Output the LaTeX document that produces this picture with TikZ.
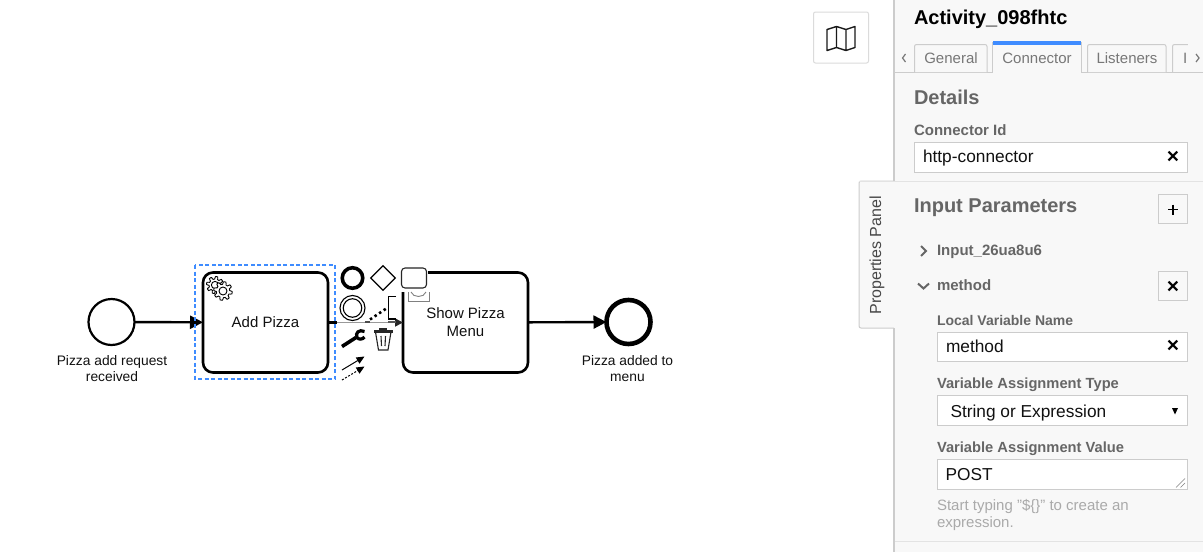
\documentclass[tikz,border=0pt]{standalone}
\usepackage{fontspec}
\setmainfont{Liberation Sans}
\usetikzlibrary{arrows.meta,shapes.geometric,calc}
\definecolor{panelbg}{HTML}{F8F8F8}
\definecolor{panelline}{HTML}{CCCCCC}
\definecolor{labelgray}{HTML}{666666}
\definecolor{tabgray}{HTML}{777777}
\definecolor{hintgray}{HTML}{AAAAAA}
\definecolor{selblue}{HTML}{3F8CFF}
\definecolor{inkdark}{HTML}{111111}
\newcommand{\fs}[1]{\fontsize{#1}{#1}\selectfont}
\tikzset{
  x=1pt,y=-1pt,
  every node/.style={inner sep=0pt,outer sep=0pt},
  task/.style={draw=black,line width=2.6pt,rounded corners=10pt,minimum width=125pt,minimum height=100pt,fill=white,align=center,font=\fontsize{15}{18}\selectfont,text=inkdark},
  evlabel/.style={align=center,font=\fontsize{13.8}{16}\selectfont,text=inkdark},
  startev/.style={circle,draw=black,line width=2.2pt,minimum size=46pt,fill=white},
  endev/.style={circle,draw=black,line width=4.6pt,minimum size=44pt,fill=white},
  flow/.style={draw=black,line width=2.4pt,-{Triangle[length=13pt,width=13pt]}},
  pane/.style={anchor=base west},
  sect/.style={pane,font=\bfseries\fontsize{20}{24}\selectfont,text=labelgray},
  lab/.style={pane,font=\bfseries\fontsize{14.7}{17}\selectfont,text=labelgray},
  inputtext/.style={pane,font=\fontsize{17.3}{20}\selectfont,text=inkdark},
  field/.style={draw=panelline,line width=1pt,fill=white,anchor=north west},
  tabbox/.style={draw=panelline,line width=1pt,rounded corners=2pt},
  tabtext/.style={font=\fontsize{15}{18}\selectfont,text=tabgray},
  squarebtn/.style={draw=panelline,line width=1pt,fill=panelbg,minimum size=29pt},
  clearx/.style={font=\bfseries\fontsize{21}{21}\selectfont,text=black},
  gearline/.style={black,line width=.9pt,fill=white,line join=round},
}
\begin{document}
\begin{tikzpicture}
\useasboundingbox (0,0) rectangle (1203,552);
\fill[white] (0,0) rectangle (1203,552);

% ---- map button
\node[draw=panelline!70,line width=1pt,rounded corners=2pt,minimum width=55pt,minimum height=51pt,fill=white] (mapbtn) at (841,37.5) {};
\draw[line width=1.4pt,line join=round,black!90] (827,29.5) -- (836.5,26.5) -- (846,29.5) -- (855,26.5) -- (855,47.5) -- (846,50.5) -- (836.5,47.5) -- (827,50.5) -- cycle
  (836.5,26.5) -- (836.5,47.5) (846,29.5) -- (846,50.5);

% ---- properties tab + panel
\draw[draw=panelline,line width=1pt,fill=panelbg,rounded corners=2pt] (894,181) -- (859,181) -- (859,328) -- (894,328);
\fill[panelbg] (894,0) rectangle (1203,552);
\draw[panelline,line width=1.6pt] (894,0) -- (894,181);
\draw[panelline,line width=1.6pt] (894,328) -- (894,552);
\draw[panelline!55,line width=1pt] (859,181) -- (1203,181);
\draw[panelline!55,line width=1pt] (895,541.5) -- (1203,541.5);
\node[rotate=90,font=\fontsize{16}{18}\selectfont,text=labelgray!70!black] (proptab) at (877,255.5) {Properties Panel};

\node[pane,font=\bfseries\fontsize{20}{24}\selectfont,text=black] (title) at (914,24) {Activity\_098fhtc};

% ---- tabs
\draw[panelline,line width=1pt] (895,72) -- (1203,72);
\draw[tabbox,fill=panelbg] (914.5,72) -- (914.5,44.5) -- (987,44.5) -- (987,72);
\draw[tabbox,fill=panelbg] (1087.5,72) -- (1087.5,44.5) -- (1166,44.5) -- (1166,72);
\draw[tabbox,fill=panelbg] (1172.5,72) -- (1172.5,44.5) -- (1188,44.5);
\draw[panelline,line width=1pt,fill=panelbg] (992.5,72.5) -- (992.5,42) -- (1081,42) -- (1081,72.5);
\fill[panelbg] (993,60) rectangle (1080.5,73);
\fill[selblue] (993,41) rectangle (1081,45) ;
\node[tabtext] (tgen) at (951,58.5) {General};
\node[tabtext] (tcon) at (1037,58.5) {Connector};
\node[tabtext] (tlis) at (1127,58.5) {Listeners};
\node[tabtext,anchor=west] (tinp) at (1183,58.5) {I};
\fill[panelbg] (1188,42) rectangle (1203,71);
\draw[tabgray,line width=1.2pt] (905.5,54) -- (902.5,58) -- (905.5,62);
\draw[tabgray,line width=1.2pt] (1196,54) -- (1199,58) -- (1196,62);

% ---- details
\node[sect] (details) at (914,104) {Details};
\node[lab,font=\bfseries\fs{15}] (cid) at (914,135) {Connector Id};
\node[field,minimum width=273pt,minimum height=30pt] (f1) at (914.5,142.5) {};
\node[inputtext] (f1t) at (923,162.5) {http-connector};
\node[clearx] (f1x) at (1173,157) {×};

% ---- input parameters
\node[sect] (inparams) at (914,212) {Input Parameters};
\node[squarebtn] (plus) at (1173,209) {};
\draw[black,line width=1.5pt] (1168,209.5) -- (1178,209.5) (1173,204.5) -- (1173,214.5);
\draw[labelgray,line width=2pt] (921,246) -- (926,251) -- (921,256);
\node[lab,font=\bfseries\fs{15}] (inp1) at (937,255.5) {Input\_26ua8u6};
\draw[labelgray,line width=2pt] (918,283.5) -- (923.5,288.5) -- (929,283.5);
\node[lab,font=\bfseries\fs{15}] (meth) at (937,290.5) {method};
\node[squarebtn] (mx) at (1173,285.5) {};
\node[clearx] at (1173,287) {×};

\node[lab,font=\bfseries\fs{14}] (lvn) at (937,325) {Local Variable Name};
\node[field,minimum width=250pt,minimum height=29pt] (f2) at (937.5,332.5) {};
\node[inputtext] (f2t) at (946,352.5) {method};
\node[clearx] (f2x) at (1173,346) {×};

\node[lab] (vat) at (937,388) {Variable Assignment Type};
\node[field,minimum width=250pt,minimum height=30pt] (f3) at (937.5,395.5) {};
\node[inputtext] (f3t) at (950.5,417) {String or Expression};
\fill[black] (1172,408) -- (1178,408) -- (1175,414.5) -- cycle;

\node[lab] (vav) at (937,452) {Variable Assignment Value};
\node[field,minimum width=250pt,minimum height=30pt] (f4) at (937.5,459.5) {};
\node[inputtext] (f4t) at (945.5,480) {POST};
\draw[gray,line width=.6pt] (1176,487.5) -- (1185,478.5) (1180.5,487.5) -- (1185,483);
\node[pane,font=\fontsize{15}{16.5}\selectfont,text=hintgray] (h1) at (937,510) {Start typing "\$\{\}" to create an};
\node[pane,font=\fontsize{15}{16.5}\selectfont,text=hintgray] (h2) at (937,527) {expression.};

% ---- BPMN shapes
\node[startev] (start) at (111.5,322) {};
\node[task,anchor=north west] (add) at (203,272.5) {Add Pizza};
\node[task,anchor=north west] (show) at (403,272.5) {Show Pizza\\Menu};
\node[endev] (endevt) at (628.5,322) {};
\node[evlabel] (l1) at (112,369) {Pizza add request\\received};
\node[evlabel] (l2) at (627.5,369) {Pizza added to\\menu};

\draw[flow] (start) -- (add);
\draw[flow] (show) -- (endevt);
% faded flow under the context pad
\draw[black!40,line width=1.7pt,-{Triangle[length=8pt,width=8pt,black!85]}] (add) -- (show);
\draw[black,line width=2.4pt] (add.east) -- ($(add.east)+(9,0)$);
\draw[black!70,line width=2pt] (365,322) -- (370,322);
\draw[black!65,line width=1.5pt] (388,322) -- (396,322);

% selection outline
\draw[draw=selblue,line width=1.4pt,dash pattern=on 4pt off 2.5pt] (195,265) rectangle (335,379);

% gears
\draw[gearline] plot[smooth cycle,tension=.2,samples=96,domain=0:356.25] ({215+(7.2+1.3*min(1,max(-1,2.5*sin(8*\x))))*cos(\x)},{285+(7.2+1.3*min(1,max(-1,2.5*sin(8*\x))))*sin(\x)});
\draw[gearline] (215,285) circle (3.6);
\draw[gearline] plot[smooth cycle,tension=.2,samples=96,domain=0:356.25] ({223+(8+1.3*min(1,max(-1,2.5*sin(8*\x))))*cos(\x)},{291+(8+1.3*min(1,max(-1,2.5*sin(8*\x))))*sin(\x)});
\draw[gearline] (223,291) circle (4);

% ---- context pad
\fill[white] (399.5,266) rectangle (428,292);
\node[circle,draw=black,line width=3.6pt,minimum size=20.5pt,fill=white] (padend) at (352.5,278) {};
\node[diamond,draw=black,line width=1.2pt,minimum size=24.5pt,aspect=1,fill=white] (padgw) at (383,278) {};
\node[draw=black!85,line width=1.1pt,rounded corners=3.5pt,minimum width=25pt,minimum height=20pt,fill=white,anchor=north west] (padtask) at (401.5,268) {};
\node[circle,draw=black,line width=1.1pt,minimum size=25pt,fill=white] (padint) at (352.5,308) {};
\node[circle,draw=black,line width=1.1pt,minimum size=18.5pt] (padint2) at (padint) {};
% icon peeking out under the task glyph
\draw[black!50,line width=.9pt] (408,292) -- (408,301.5) -- (429,301.5) -- (429,292);
\draw[black!50,line width=.9pt] (411,292) .. controls (413,298) and (424,298) .. (426,292);
% text annotation
\coordinate (annoA) at (396,296.5);
\coordinate (annoB) at (396,319);
\draw[black,line width=1.2pt] (annoA) -- (388.5,296.5) -- (388.5,319) -- (annoB);
\draw[black,line width=2.6pt,dash pattern=on 2.5pt off 3pt] (370,319.5) -- (387,308);
% wrench
\draw[black,line width=3.6pt] (342,346.5) -- (356,337.5);
\draw[black,line width=3.2pt] (364.5,331.5) .. controls (359,329) and (355,333) .. (357,337.5) .. controls (359,340) and (362.5,339.5) .. (364.5,337);
% trash
\draw[black!85,line width=1.1pt,fill=white] (375.5,332) -- (378.5,350) -- (388,350) -- (391,332);
\draw[black!85,line width=1.1pt] (381,336) -- (381.5,346) (385.5,336) -- (385,346);
\fill[black!85] (374,330) rectangle (392.5,332.5);
\fill[black!85] (378.5,328) rectangle (387,330.5);
% connect arrows
\draw[black,line width=1pt,-{Triangle[length=8pt,width=7pt]}] (342,370) -- (364.5,356.5);
\draw[black,line width=1pt,dash pattern=on 2pt off 1.6pt,-{Triangle[length=8pt,width=7pt]}] (342,380) -- (364.5,366.5);
\end{tikzpicture}
\end{document}
